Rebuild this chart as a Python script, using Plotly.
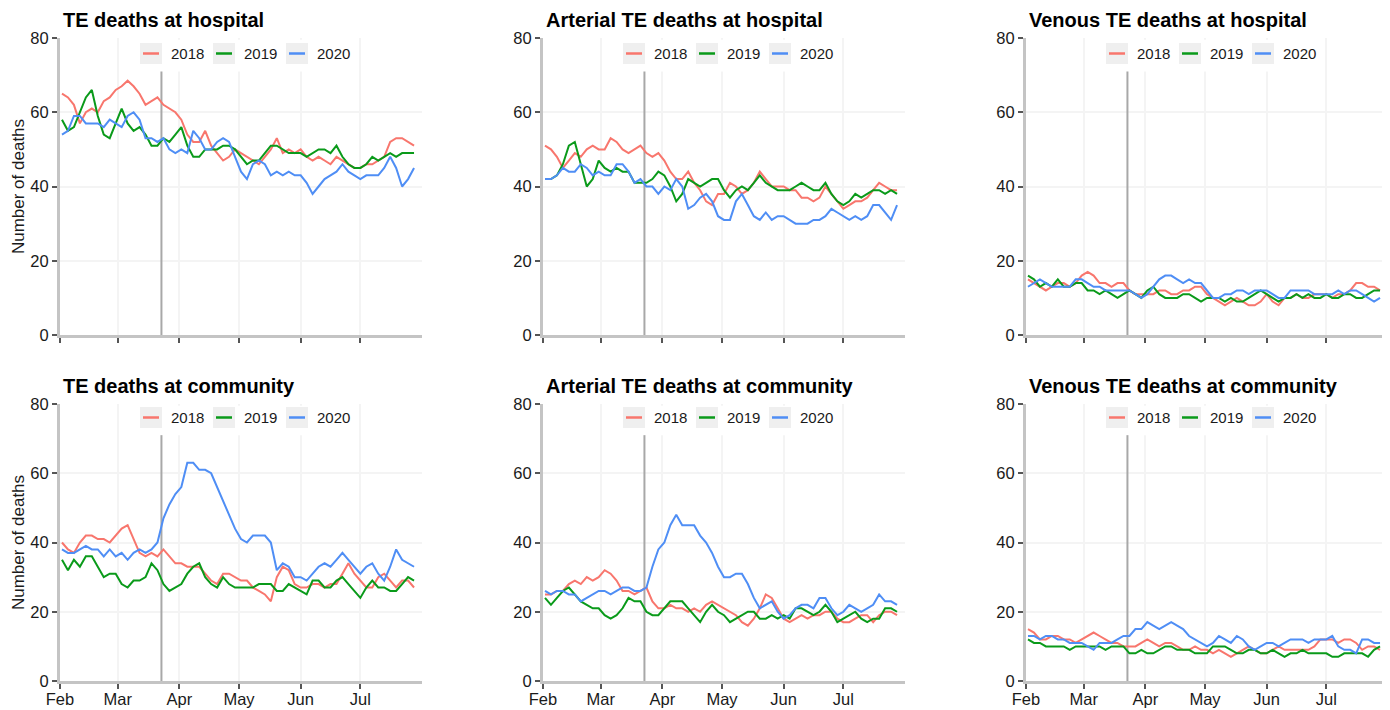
import plotly.graph_objects as go
import pandas as pd

# ---------------- data (every 3rd day) ----------------
dates = pd.date_range("2020-02-02", periods=60, freq="3D")
years = ["2018", "2019", "2020"]
lockdown_date = "2020-03-23"
month_ticks = ["2020-02-01", "2020-03-01", "2020-04-01", "2020-05-01", "2020-06-01", "2020-07-01"]
month_labels = ["Feb", "Mar", "Apr", "May", "Jun", "Jul"]
y_ticks = [0, 20, 40, 60, 80]

panel_titles = [
    "TE deaths at hospital", "Arterial TE deaths at hospital", "Venous TE deaths at hospital",
    "TE deaths at community", "Arterial TE deaths at community", "Venous TE deaths at community",
]

te_hosp_2018 = [65,64,62,57,60,61,60,63,64,66, 67,68.5,67,65,62,63,64,62,61,60, 58,54,52,52,55,51,49,47,48,50,
                49,48,47,46,48,50,53,49,50,49, 50,48,47,48,47,46,48,47,46,45, 45,46,46,47,48,52,53,53,52,51]
te_hosp_2019 = [58,55,56,60,64,66,59,54,53,57, 61,57,55,56,54,51,51,53,52,54, 56,51,48,48,50,50,50,51,51,50,
                48,46,47,47,49,51,51,50,49,49, 49,48,49,50,50,49,51,48,46,45, 45,46,48,47,48,49,48,49,49,49]
te_hosp_2020 = [54,55,59,59,57,57,57,56,58,57, 56,59,60,58,53,53,52,53,50,49, 50,49,55,53,50,50,52,53,52,48,
                44,42,46,47,46,43,44,43,44,43, 43,41,38,40,42,43,44,46,44,43, 42,43,43,43,45,48,45,40,42,45]

art_hosp_2018 = [51,50,48,45,47,49,48,50,51,50, 50,53,52,50,49,50,51,49,48,49, 47,44,42,42,44,41,39,36,35,38,
                 38,41,40,38,39,41,44,42,40,40, 40,39,39,37,37,36,37,40,38,36, 34,35,36,36,37,39,41,40,39,39]
art_hosp_2019 = [42,42,43,46,51,52,46,40,42,47, 45,44,45,44,44,41,41,41,42,44, 43,40,36,38,42,41,40,41,42,42,
                 39,37,39,40,39,41,43,41,40,39, 39,39,40,41,40,39,39,41,38,36, 35,36,38,37,38,39,39,38,39,38]
art_hosp_2020 = [42,42,43,45,44,44,46,45,43,44, 43,43,46,46,44,41,42,40,40,38, 40,39,42,40,34,35,37,38,36,32,
                 31,31,36,38,35,32,31,33,31,32, 32,31,30,30,30,31,31,32,34,33, 32,31,32,31,32,35,35,33,31,35]

ven_hosp_2018 = [15,14,13,12,13,14,14,13,14,16, 17,16,14,14,13,14,14,12,11,11, 11,11,12,12,11,11,12,12,13,13,
                 11,10,9,8,9,10,9,8,8,9, 11,9,8,10,10,11,10,10,11,11, 11,10,11,11,12,14,14,13,13,12]
ven_hosp_2019 = [16,15,13,14,13,15,13,13,14,14, 12,12,11,12,11,10,11,12,11,10, 12,13,11,10,10,10,11,11,10,9,
                 10,10,10,9,10,9,9,10,11,12, 11,10,9,10,10,11,10,11,10,10, 11,10,10,11,11,10,10,11,12,12]
ven_hosp_2020 = [13,14,15,14,13,13,13,13,15,15, 14,13,13,12,12,12,12,12,11,10, 11,13,15,16,16,15,14,15,14,14,
                 12,10,10,11,11,12,12,11,12,12, 12,11,10,10,12,12,12,12,11,11, 11,11,12,11,12,12,11,10,9,10]

te_comm_2018 = [40,38,37,40,42,42,41,41,40,42, 44,45,41,37,36,37,36,38,36,34, 34,33,33,33,31,29,28,31,31,30,
                29,29,27,26,25,23,30,33,32,28, 27,27,28,28,27,28,28,31,34,31, 29,27,27,30,31,29,27,29,29,27]
te_comm_2019 = [35,32,35,33,36,36,33,30,31,31, 28,27,29,29,30,34,32,28,26,27, 28,31,33,34,30,28,27,30,28,27,
                27,27,27,28,28,28,26,26,28,27, 26,25,29,29,27,27,29,30,28,26, 24,27,29,27,27,26,26,28,30,29]
te_comm_2020 = [38,37,37,38,39,38,38,36,38,36, 37,35,37,38,37,38,40,47,51,54, 56,63,63,61,61,60,56,52,48,44,
                41,40,42,42,42,40,32,34,33,30, 30,29,31,33,34,33,35,37,35,33, 31,33,34,31,29,33,38,35,34,33]

art_comm_2018 = [25,25,26,26,28,29,28,30,29,30, 32,31,29,26,26,25,26,27,23,21, 21,22,21,21,20,21,20,22,23,22,
                 21,20,19,17,16,18,21,25,24,21, 18,17,18,19,18,19,19,20,20,18, 17,17,18,19,19,17,19,20,20,19]
art_comm_2019 = [24,22,24,26,27,25,23,22,21,21, 19,18,19,21,24,23,23,20,19,19, 21,23,23,23,21,19,17,20,22,20,
                 19,17,18,19,20,20,18,18,19,18, 19,18,21,21,20,19,20,22,20,17, 18,19,20,18,17,18,18,21,21,20]
art_comm_2020 = [26,25,26,26,25,25,23,24,25,26, 26,25,26,27,27,26,26,27,33,38, 40,45,48,45,45,45,42,40,37,33,
                 30,30,31,31,28,24,21,22,23,20, 18,19,21,22,22,21,24,24,21,19, 20,22,21,20,21,22,25,23,23,22]

ven_comm_2018 = [15,14,12,12,13,13,12,12,11,12, 13,14,13,12,11,11,10,10,10,11, 12,11,10,11,11,10,9,9,10,9,
                 9,8,9,8,7,8,9,10,9,8, 8,9,10,9,9,9,9,9,10,12, 12,12,11,12,12,11,9,10,10,9]
ven_comm_2019 = [12,11,11,10,10,10,10,9,10,10, 10,10,10,9,10,10,10,8,8,9, 8,8,9,10,10,9,9,9,8,8,
                 8,10,10,10,9,8,8,9,9,8, 8,9,8,7,8,8,9,8,8,8, 8,7,7,8,8,8,8,7,9,10]
ven_comm_2020 = [13,13,12,13,13,12,12,11,11,11, 10,9,11,11,11,12,13,13,15,15, 17,16,15,16,17,16,15,13,12,11,
                 10,11,13,12,11,13,12,10,9,10, 11,11,10,11,12,12,12,11,12,12, 12,13,10,9,9,8,12,12,11,11]

panel_series = [
    [te_hosp_2018, te_hosp_2019, te_hosp_2020],
    [art_hosp_2018, art_hosp_2019, art_hosp_2020],
    [ven_hosp_2018, ven_hosp_2019, ven_hosp_2020],
    [te_comm_2018, te_comm_2019, te_comm_2020],
    [art_comm_2018, art_comm_2019, art_comm_2020],
    [ven_comm_2018, ven_comm_2019, ven_comm_2020],
]

# ---------------- styling / layout ----------------
OFF = 8                      # the page body margin of the exported html
W, H = 1390 - OFF, 710 - OFF
colors = ["#F8766D", "#0A9A1A", "#4F8EF5"]
FONT = "Arial, Liberation Sans, sans-serif"
col_px = [(60, 422), (543, 905), (1026, 1388)]   # screen pixels of the plot areas
row_px = [(38, 335), (404, 681)]

def px(x):
    return (x - OFF) / W

def py(y):
    return 1 - (y - OFF) / H

fig = go.Figure()
shapes = []
annotations = []

for p in range(6):
    r, c = divmod(p, 3)
    idx = "" if p == 0 else str(p + 1)
    xa, ya = "x" + idx, "y" + idx
    L, R = col_px[c]
    T, B = row_px[r]

    for k, yr in enumerate(years):
        fig.add_trace(go.Scatter(
            x=dates, y=panel_series[p][k], mode="lines", name=yr,
            line=dict(color=colors[k], width=2), showlegend=False,
            xaxis=xa, yaxis=ya,
        ))

    axis_common = dict(
        automargin=False,
        showline=True, linecolor="#C4C4C4", linewidth=3, mirror=False,
        showgrid=True, gridcolor="#F4F4F4", gridwidth=2, zeroline=False,
        ticks="outside", ticklen=5, tickwidth=2, tickcolor="#555555",
        tickfont=dict(family=FONT, size=16.5, color="#1a1a1a"),
    )
    fig.layout["xaxis" + idx] = dict(
        axis_common, domain=[px(L), px(R)], anchor=ya, type="date",
        range=["2020-02-01", "2020-08-01"], tickvals=month_ticks, ticktext=month_labels,
        showticklabels=(r == 1), ticklabelstandoff=-4,
    )
    fig.layout["yaxis" + idx] = dict(
        axis_common, domain=[py(B), py(T)], anchor=xa, range=[0, 80], tickvals=y_ticks,
        title=dict(text="Number of deaths" if c == 0 else "", font=dict(family=FONT, size=17, color="#1a1a1a"),
                   standoff=2),
    )

    # white legend background that hides the grid behind the legend
    shapes.append(dict(type="rect", xref=xa, yref=ya, x0="2020-03-10", x1="2020-06-28", y0=71, y1=79.5,
                       fillcolor="white", line=dict(width=0), layer="between"))
    # lockdown line
    shapes.append(dict(type="line", xref=xa, yref=ya, x0=lockdown_date, x1=lockdown_date, y0=0, y1=71,
                       line=dict(color="#A8A8A8", width=2), layer="between"))

    # panel title
    annotations.append(dict(text="<b>" + panel_titles[p] + "</b>", xref="paper", yref="paper",
                            x=px(L + 1), y=py(T - 18), xanchor="left", yanchor="middle", showarrow=False,
                            font=dict(family=FONT, size=20, color="#000000")))

    # legend (keys with grey background, as in the reference)
    top_off = 5 if r == 0 else 3
    for k, yr in enumerate(years):
        bx = L + 80 + 73 * k
        shapes.append(dict(type="rect", xref="paper", yref="paper", x0=px(bx), x1=px(bx + 22),
                           y0=py(T + top_off + 21), y1=py(T + top_off), fillcolor="#EFEFEF",
                           line=dict(width=0), layer="above"))
        shapes.append(dict(type="line", xref="paper", yref="paper", x0=px(bx + 3), x1=px(bx + 19),
                           y0=py(T + top_off + 10.5), y1=py(T + top_off + 10.5),
                           line=dict(color=colors[k], width=2.5), layer="above"))
        annotations.append(dict(text=yr, xref="paper", yref="paper", x=px(bx + 29), y=py(T + top_off + 10.5),
                                xanchor="left", yanchor="middle", showarrow=False,
                                font=dict(family=FONT, size=15, color="#1a1a1a")))

fig.update_layout(
    width=W, height=H, margin=dict(l=0, r=0, t=0, b=0, autoexpand=False),
    plot_bgcolor="white", paper_bgcolor="white",
    shapes=shapes, annotations=annotations, showlegend=False,
    font=dict(family=FONT),
)

fig.write_html("out.html")
